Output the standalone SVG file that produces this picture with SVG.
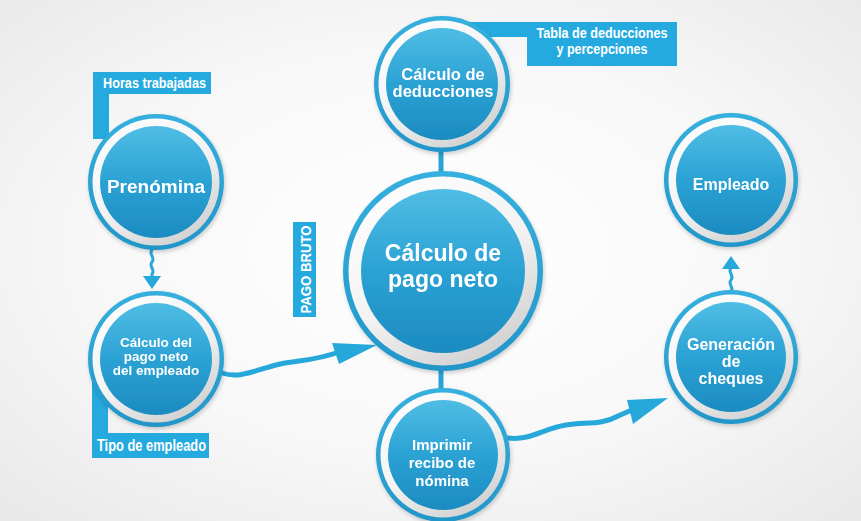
<svg xmlns="http://www.w3.org/2000/svg" width="861" height="521" viewBox="0 0 861 521">
<defs>
  <radialGradient id="bg" cx="50%" cy="48%" r="70%">
    <stop offset="0" stop-color="#ffffff"/>
    <stop offset="0.55" stop-color="#f8f8f8"/>
    <stop offset="1" stop-color="#e9e9e9"/>
  </radialGradient>
  <linearGradient id="disc" x1="0" y1="0" x2="0" y2="1">
    <stop offset="0" stop-color="#4fbde5"/>
    <stop offset="0.5" stop-color="#2ba2d4"/>
    <stop offset="1" stop-color="#1c8bc1"/>
  </linearGradient>
  <linearGradient id="ring" x1="0" y1="0" x2="0.6" y2="1">
    <stop offset="0" stop-color="#ffffff"/>
    <stop offset="0.6" stop-color="#f3f3f3"/>
    <stop offset="1" stop-color="#d4d4d4"/>
  </linearGradient>
  <linearGradient id="outer" x1="0" y1="0" x2="0" y2="1">
    <stop offset="0" stop-color="#36b0de"/>
    <stop offset="1" stop-color="#2396c9"/>
  </linearGradient>
  <filter id="sh" x="-20%" y="-20%" width="140%" height="140%">
    <feDropShadow dx="1" dy="2" stdDeviation="2" flood-color="#000" flood-opacity="0.2"/>
  </filter>
</defs>
<style>
  .outer{fill:url(#outer)}
  .ring{fill:url(#ring)}
  .disc{fill:url(#disc)}
  .t{font-family:"Liberation Sans",Arial,sans-serif;font-weight:bold;fill:#ffffff;text-anchor:middle}
  .lbl{fill:#25aadf}
  .lt{font-family:"Liberation Sans",Arial,sans-serif;font-weight:bold;fill:#ffffff}
  .wire{fill:none;stroke:#27a8da;stroke-width:5;stroke-linecap:round}
  .thin{fill:none;stroke:#27a8da;stroke-width:3;stroke-linecap:round}
  .head{fill:#27a8da}
  .bar{stroke:#2aa3d4;stroke-width:5}
</style>

<rect x="0" y="0" width="861" height="521" fill="url(#bg)"/>

<g id="connectors">
  <line class="bar" x1="441" y1="150" x2="441" y2="175"/>
  <line class="bar" x1="441" y1="368" x2="441" y2="392"/>
  <path class="thin" d="M152,250 c-4,4 4,8 0,12 s4,8 0,12 L152,279"/>
  <polygon class="head" points="143,276 161,276 152,289"/>
  <path class="thin" d="M731,292 c4,-4 -4,-8 0,-12 s-4,-8 0,-12 L731,267"/>
  <polygon class="head" points="722,269 740,269 731,256"/>
  <path class="wire" d="M222,373 C240,379 256,370 276,365 S312,362 342,351"/>
  <polygon class="head" points="377,345 332,343 339,364"/>
  <path class="wire" d="M508,438 C530,441 545,428 566,425 S602,425 618,416 L634,409"/>
  <polygon class="head" points="668,398 627,400 633,424"/>
</g>

<g id="label-horas">
  <rect class="lbl" x="93" y="94" width="16" height="45"/>
  <rect class="lbl" x="93" y="72" width="118" height="22"/>
  <text class="lt" x="103" y="88" font-size="14.5" textLength="103" lengthAdjust="spacingAndGlyphs">Horas trabajadas</text>
</g>
<g id="label-tipo">
  <rect class="lbl" x="92" y="380" width="16" height="55"/>
  <rect class="lbl" x="92" y="433" width="117" height="25"/>
  <text class="lt" x="97" y="451" font-size="16" textLength="109" lengthAdjust="spacingAndGlyphs">Tipo de empleado</text>
</g>
<g id="label-tabla">
  <rect class="lbl" x="468" y="22" width="62" height="15"/>
  <rect class="lbl" x="527" y="22" width="150" height="44"/>
  <text class="lt" x="602" y="38" font-size="14.5" text-anchor="middle" textLength="131" lengthAdjust="spacingAndGlyphs">Tabla de deducciones</text>
  <text class="lt" x="602" y="54" font-size="14.5" text-anchor="middle" textLength="91" lengthAdjust="spacingAndGlyphs">y percepciones</text>
</g>
<g id="label-pago-bruto">
  <rect class="lbl" x="293" y="222" width="23" height="95"/>
  <text class="lt" transform="translate(310.5,269.5) rotate(-90)" x="0" y="0" font-size="15.5" text-anchor="middle" textLength="88" lengthAdjust="spacingAndGlyphs">PAGO BRUTO</text>
</g>

<g id="node-prenomina" filter="url(#sh)">
  <circle class="outer" cx="156" cy="182" r="68"/>
  <circle class="ring" cx="156" cy="182" r="63.5"/>
  <circle class="disc" cx="156" cy="182" r="56"/>
  <text class="t" x="156" y="193" font-size="19">Prenómina</text>
</g>

<g id="node-calculo-empleado" filter="url(#sh)">
  <circle class="outer" cx="156" cy="359" r="68"/>
  <circle class="ring" cx="156" cy="359" r="63.5"/>
  <circle class="disc" cx="156" cy="359" r="56"/>
  <text class="t" x="156" y="347" font-size="13.5">Cálculo del</text>
  <text class="t" x="156" y="361" font-size="13.5">pago neto</text>
  <text class="t" x="156" y="375" font-size="13.5">del empleado</text>
</g>

<g id="node-deducciones" filter="url(#sh)">
  <circle class="outer" cx="442" cy="84" r="68"/>
  <circle class="ring" cx="442" cy="84" r="63.5"/>
  <circle class="disc" cx="442" cy="84" r="56"/>
  <text class="t" x="443" y="80" font-size="16.5">Cálculo de</text>
  <text class="t" x="443" y="97" font-size="16.5">deducciones</text>
</g>

<g id="node-pago-neto" filter="url(#sh)">
  <circle class="outer" cx="443" cy="271" r="100"/>
  <circle class="ring" cx="443" cy="271" r="94.5"/>
  <circle class="disc" cx="443" cy="271" r="82"/>
  <text class="t" x="443" y="261" font-size="23">Cálculo de</text>
  <text class="t" x="443" y="287" font-size="23">pago neto</text>
</g>

<g id="node-imprimir" filter="url(#sh)">
  <circle class="outer" cx="443" cy="455" r="67"/>
  <circle class="ring" cx="443" cy="455" r="62.5"/>
  <circle class="disc" cx="443" cy="455" r="55"/>
  <text class="t" x="442" y="450" font-size="15">Imprimir</text>
  <text class="t" x="442" y="468" font-size="15">recibo de</text>
  <text class="t" x="442" y="486" font-size="15">nómina</text>
</g>

<g id="node-empleado" filter="url(#sh)">
  <circle class="outer" cx="731" cy="180" r="67"/>
  <circle class="ring" cx="731" cy="180" r="62.5"/>
  <circle class="disc" cx="731" cy="180" r="55"/>
  <text class="t" x="731" y="190" font-size="16">Empleado</text>
</g>

<g id="node-generacion" filter="url(#sh)">
  <circle class="outer" cx="731" cy="357" r="67"/>
  <circle class="ring" cx="731" cy="357" r="62.5"/>
  <circle class="disc" cx="731" cy="357" r="55"/>
  <text class="t" x="731" y="350" font-size="16">Generación</text>
  <text class="t" x="731" y="367" font-size="16">de</text>
  <text class="t" x="731" y="384" font-size="16">cheques</text>
</g>
</svg>
